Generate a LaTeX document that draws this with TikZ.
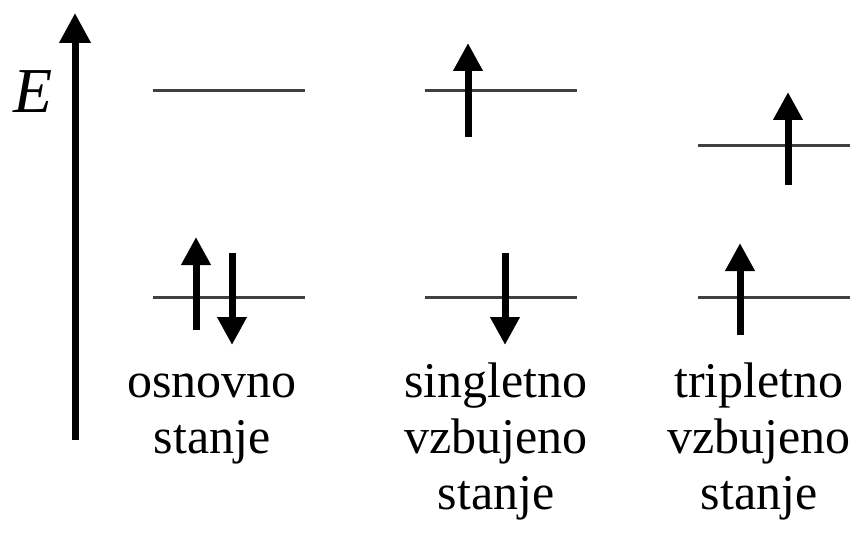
\documentclass[tikz,border=0pt]{standalone}
\usepackage{fontspec}
\setmainfont{Liberation Serif}
\usetikzlibrary{arrows.meta}

\begin{document}
\begin{tikzpicture}[x=0.5pt, y=-0.5pt,
    level/.style={draw=black!75, line width=1.5pt},
    spin/.style={line width=3.5pt, -{Triangle[width=14pt, length=14pt]}},
    axis/.style={line width=3.5pt, -{Triangle[width=15pt, length=15pt]}},
    state/.style={align=center, inner sep=0pt, anchor=base, font=\fontsize{25}{28}\selectfont}
  ]
  \useasboundingbox (0,0) rectangle (855,534);

  % Energijska os
  \draw [axis] (75,440) -- (75,13);
  \node (E) at (33,92) {\fontsize{32}{32}\selectfont\itshape E};

  % Nivoji
  \draw [level] (153,91) -- (305,91);
  \draw [level] (153,297) -- (305,297);
  \draw [level] (425,91) -- (577,91);
  \draw [level] (425,297) -- (577,297);
  \draw [level] (698,146) -- (850,146);
  \draw [level] (698,297) -- (850,297);

  % Spini
  \draw [spin] (196,330) -- (196,237);
  \draw [spin] (232,253) -- (232,345);
  \draw [spin] (468,137) -- (468,43);
  \draw [spin] (505,253) -- (505,345);
  \draw [spin] (788,185) -- (788,92);
  \draw [spin] (740,335) -- (740,243);

  % Oznake (base = zadnja vrstica)
  \node [state] (osnovno) at (212,453) {osnovno\\stanje};
  \node [state] (singlet) at (496,509) {singletno\\vzbujeno\\stanje};
  \node [state] (triplet) at (759,509) {tripletno\\vzbujeno\\stanje};
\end{tikzpicture}
\end{document}
